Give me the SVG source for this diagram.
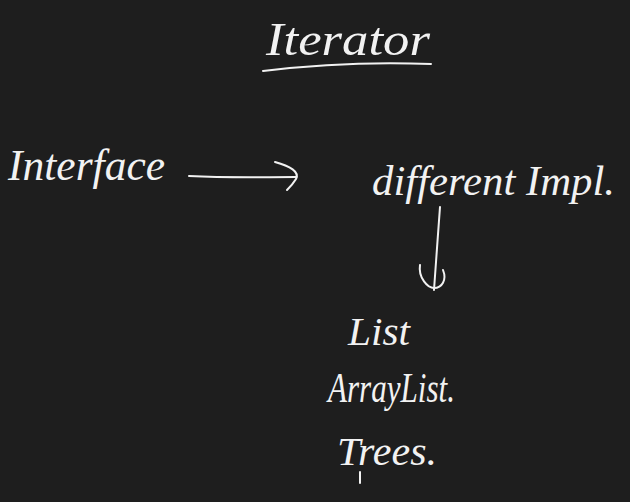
<svg xmlns="http://www.w3.org/2000/svg" width="630" height="502" viewBox="0 0 630 502">
<style>
.t{font-family:"Liberation Serif","DejaVu Serif",serif;font-style:italic;fill:#f2f2f2}
.s{fill:none;stroke:#f2f2f2;stroke-width:2;stroke-linecap:round;stroke-linejoin:round}
</style>
<rect width="630" height="502" fill="#1e1e1e"/>
<g id="title">
<text class="t" x="266" y="55" font-size="46" textLength="164" lengthAdjust="spacingAndGlyphs">Iterator</text>
<path class="s" d="M263 71 C320 64 380 62 431 64" stroke-width="1.6"/>
</g>
<g id="interface">
<text class="t" x="8" y="180" font-size="44" textLength="157" lengthAdjust="spacingAndGlyphs">Interface</text>
</g>
<g id="impl">
<text class="t" x="372" y="195" font-size="42" textLength="243" lengthAdjust="spacingAndGlyphs">different Impl.</text>
</g>
<g id="list">
<text class="t" x="348" y="345" font-size="40" textLength="62" lengthAdjust="spacingAndGlyphs">List</text>
</g>
<g id="arraylist">
<text class="t" x="328" y="402" font-size="42" textLength="127" lengthAdjust="spacingAndGlyphs">ArrayList.</text>
</g>
<g id="trees">
<text class="t" x="337" y="465" font-size="40" textLength="100" lengthAdjust="spacingAndGlyphs">Trees.</text>
</g>
<g id="connectors">
<path class="s" d="M189 176 C230 178 260 177 296 177"/>
<path class="s" d="M275 162 C290 166 300 172 296 179 C293 184 290 187 287 190"/>
<path class="s" d="M440 207 C438 235 436 260 434 290"/>
<path class="s" d="M420 265 C418 278 428 288 434 288 C442 288 447 280 443 270"/>
<path class="s" d="M360 472 L360 483" stroke-width="1.5"/>
</g>
</svg>
